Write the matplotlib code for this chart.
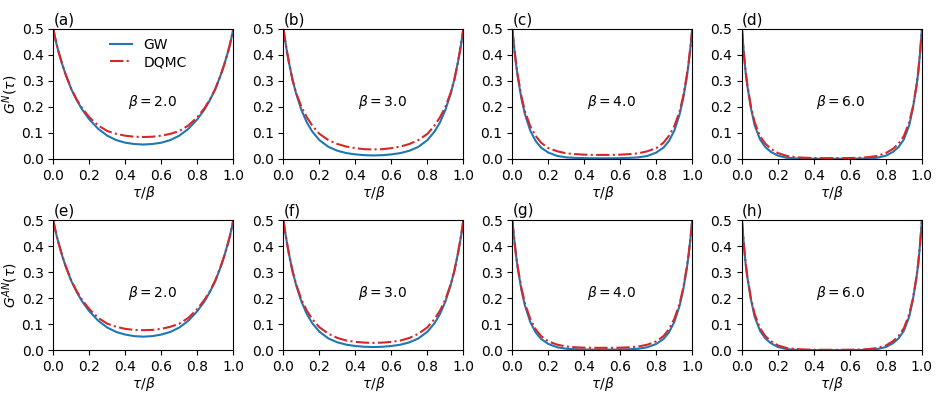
import matplotlib
matplotlib.use("Agg")
import matplotlib.pyplot as plt

# ========================= data ========================= #
tau = [0, 0.01, 0.02, 0.03, 0.05, 0.07, 0.1, 0.13, 0.16, 0.2, 0.25, 0.3, 0.35, 0.4, 0.45, 0.5,
       0.55, 0.6, 0.65, 0.7, 0.75, 0.8, 0.84, 0.87, 0.9, 0.93, 0.95, 0.97, 0.98, 0.99, 1.0]

betas = [2.0, 3.0, 4.0, 6.0]
panel_labels = ["(a)", "(b)", "(c)", "(d)", "(e)", "(f)", "(g)", "(h)"]
ylabels = [r"$G^{N}(\tau)$", r"$G^{AN}(\tau)$"]

# normal component, GW
gw_a = [0.5, 0.466, 0.436, 0.41, 0.363, 0.322, 0.268, 0.226, 0.19, 0.152, 0.115, 0.089, 0.072, 0.062, 0.057, 0.055,
        0.057, 0.062, 0.072, 0.089, 0.115, 0.152, 0.19, 0.226, 0.268, 0.322, 0.363, 0.41, 0.436, 0.466, 0.5]
gw_b = [0.5, 0.453, 0.411, 0.373, 0.306, 0.252, 0.188, 0.14, 0.105, 0.072, 0.046, 0.031, 0.022, 0.017, 0.014, 0.013,
        0.014, 0.017, 0.022, 0.031, 0.046, 0.072, 0.105, 0.14, 0.188, 0.252, 0.306, 0.373, 0.411, 0.453, 0.5]
gw_c = [0.5, 0.43, 0.368, 0.316, 0.234, 0.172, 0.108, 0.068, 0.043, 0.024, 0.011, 0.0055, 0.0035, 0.0025, 0.002, 0.002,
        0.002, 0.0025, 0.0035, 0.0055, 0.011, 0.024, 0.043, 0.068, 0.108, 0.172, 0.234, 0.316, 0.368, 0.43, 0.5]
gw_d = [0.5, 0.41, 0.335, 0.28, 0.195, 0.13, 0.075, 0.045, 0.027, 0.012, 0.004, 0.0015, 0.0006, 0.0003, 0.0002, 0.0002,
        0.0002, 0.0003, 0.0006, 0.0015, 0.004, 0.012, 0.027, 0.045, 0.075, 0.13, 0.195, 0.28, 0.335, 0.41, 0.5]

# normal component, DQMC
dq_a = [0.5, 0.466, 0.436, 0.41, 0.363, 0.322, 0.269, 0.228, 0.195, 0.16, 0.128, 0.107, 0.096, 0.089, 0.085, 0.084,
        0.085, 0.089, 0.096, 0.107, 0.128, 0.16, 0.195, 0.228, 0.269, 0.322, 0.363, 0.41, 0.436, 0.466, 0.5]
dq_b = [0.5, 0.455, 0.412, 0.373, 0.305, 0.255, 0.2, 0.16, 0.128, 0.096, 0.072, 0.057, 0.047, 0.041, 0.037, 0.036,
        0.037, 0.041, 0.047, 0.057, 0.072, 0.096, 0.128, 0.16, 0.2, 0.255, 0.305, 0.373, 0.412, 0.455, 0.5]
dq_c = [0.5, 0.432, 0.372, 0.322, 0.242, 0.183, 0.125, 0.088, 0.062, 0.041, 0.029, 0.021, 0.018, 0.016, 0.015, 0.015,
        0.015, 0.016, 0.018, 0.021, 0.029, 0.041, 0.062, 0.088, 0.125, 0.183, 0.242, 0.322, 0.372, 0.432, 0.5]
dq_d = [0.5, 0.41, 0.338, 0.283, 0.2, 0.142, 0.088, 0.058, 0.039, 0.022, 0.011, 0.006, 0.004, 0.003, 0.0025, 0.0025,
        0.0025, 0.003, 0.004, 0.006, 0.011, 0.022, 0.039, 0.058, 0.088, 0.142, 0.2, 0.283, 0.338, 0.41, 0.5]

# anomalous component, GW
gw_e = [0.5, 0.466, 0.436, 0.41, 0.362, 0.32, 0.266, 0.224, 0.188, 0.15, 0.113, 0.087, 0.07, 0.06, 0.054, 0.052,
        0.054, 0.06, 0.07, 0.087, 0.113, 0.15, 0.188, 0.224, 0.266, 0.32, 0.362, 0.41, 0.436, 0.466, 0.5]
gw_f = [0.5, 0.453, 0.411, 0.373, 0.306, 0.252, 0.187, 0.139, 0.104, 0.071, 0.045, 0.03, 0.021, 0.016, 0.013, 0.012,
        0.013, 0.016, 0.021, 0.03, 0.045, 0.071, 0.104, 0.139, 0.187, 0.252, 0.306, 0.373, 0.411, 0.453, 0.5]
gw_g = [0.5, 0.43, 0.368, 0.316, 0.234, 0.172, 0.108, 0.068, 0.043, 0.024, 0.011, 0.0055, 0.0035, 0.0025, 0.002, 0.002,
        0.002, 0.0025, 0.0035, 0.0055, 0.011, 0.024, 0.043, 0.068, 0.108, 0.172, 0.234, 0.316, 0.368, 0.43, 0.5]
gw_h = [0.5, 0.41, 0.335, 0.28, 0.195, 0.13, 0.075, 0.045, 0.027, 0.012, 0.004, 0.0015, 0.0006, 0.0003, 0.0002, 0.0002,
        0.0002, 0.0003, 0.0006, 0.0015, 0.004, 0.012, 0.027, 0.045, 0.075, 0.13, 0.195, 0.28, 0.335, 0.41, 0.5]

# anomalous component, DQMC
dq_e = [0.5, 0.466, 0.436, 0.41, 0.363, 0.322, 0.268, 0.227, 0.194, 0.158, 0.124, 0.102, 0.09, 0.082, 0.078, 0.077,
        0.078, 0.082, 0.09, 0.102, 0.124, 0.158, 0.194, 0.227, 0.268, 0.322, 0.363, 0.41, 0.436, 0.466, 0.5]
dq_f = [0.5, 0.454, 0.412, 0.373, 0.305, 0.254, 0.195, 0.152, 0.12, 0.088, 0.063, 0.047, 0.037, 0.032, 0.029, 0.028,
        0.029, 0.032, 0.037, 0.047, 0.063, 0.088, 0.12, 0.152, 0.195, 0.254, 0.305, 0.373, 0.412, 0.454, 0.5]
dq_g = [0.5, 0.431, 0.37, 0.32, 0.24, 0.18, 0.12, 0.08, 0.054, 0.034, 0.021, 0.014, 0.011, 0.0095, 0.009, 0.009,
        0.009, 0.0095, 0.011, 0.014, 0.021, 0.034, 0.054, 0.08, 0.12, 0.18, 0.24, 0.32, 0.37, 0.431, 0.5]
dq_h = [0.5, 0.41, 0.337, 0.282, 0.198, 0.14, 0.085, 0.054, 0.035, 0.018, 0.008, 0.004, 0.0025, 0.0018, 0.0015, 0.0015,
        0.0015, 0.0018, 0.0025, 0.004, 0.008, 0.018, 0.035, 0.054, 0.085, 0.14, 0.198, 0.282, 0.337, 0.41, 0.5]

gw_all = [[gw_a, gw_b, gw_c, gw_d], [gw_e, gw_f, gw_g, gw_h]]
dq_all = [[dq_a, dq_b, dq_c, dq_d], [dq_e, dq_f, dq_g, dq_h]]

# ============================================================= #

fig = plt.figure(figsize=(9.47, 3.97), dpi=100)

lefts = [0.0563, 0.2993, 0.5410, 0.7835]
bottoms = [0.600, 0.118]
width = 0.190
height = 0.327

for r in range(2):
    for c in range(4):
        ax = fig.add_axes([lefts[c], bottoms[r], width, height])
        ax.plot(tau, gw_all[r][c], color="#1f77b4", lw=1.5, label="GW")
        ax.plot(tau, dq_all[r][c], color="#d62728", lw=1.5, ls="-.", label="DQMC")
        ax.set_xlim(0, 1)
        ax.set_ylim(0, 0.5)
        ax.set_xticks([0, 0.2, 0.4, 0.6, 0.8, 1.0])
        ax.set_yticks([0, 0.1, 0.2, 0.3, 0.4, 0.5])
        ax.tick_params(labelsize=10)
        ax.set_xlabel(r"$\tau/\beta$", fontsize=10, labelpad=1)
        if c == 0:
            ax.set_ylabel(ylabels[r], fontsize=10, labelpad=1)
        ax.text(0.55, 0.44, r"$\beta = %.1f$" % betas[c], transform=ax.transAxes,
                ha="center", va="center", fontsize=10)
        ax.text(0.0, 1.015, panel_labels[r * 4 + c], transform=ax.transAxes,
                ha="left", va="bottom", fontsize=11)
        if r == 0 and c == 0:
            ax.legend(loc="upper left", bbox_to_anchor=(0.245, 1.03), frameon=False, fontsize=10,
                      handlelength=1.6, labelspacing=0.25)

plt.savefig("out.png", dpi=100)
